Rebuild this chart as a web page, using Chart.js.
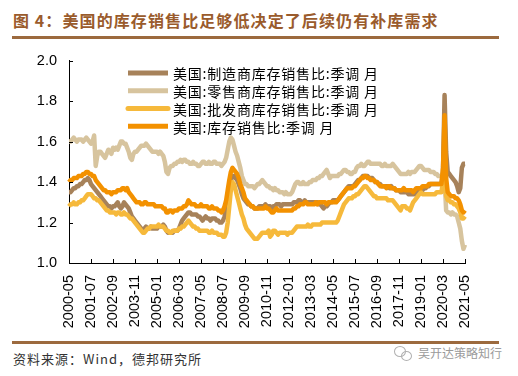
<!DOCTYPE html>
<html>
<head>
<meta charset="utf-8">
<script src="https://cdn.jsdelivr.net/npm/chart.js@4.4.1/dist/chart.umd.min.js"></script>
<style>
  body { margin: 0; background: #fff; width: 518px; height: 376px; position: relative; overflow: hidden; font-family: "Noto Sans CJK SC", sans-serif; }
  #title { position: absolute; left: 13px; top: 10px; line-height: 20px; font-size: 16px; font-weight: bold; color: #9A5B2C; letter-spacing: 1.1px; white-space: nowrap; }
  .rule { position: absolute; left: 12px; width: 487px; background: #9C6A3E; }
  #ruleTop { top: 36px; height: 3px; }
  #ruleBottom { top: 341px; height: 2.5px; }
  #source { position: absolute; left: 13px; top: 351px; line-height: 16px; font-size: 13px; color: #333; letter-spacing: 1px; white-space: nowrap; }
  #mark { position: absolute; left: 418px; top: 345px; line-height: 16px; font-size: 12px; color: #9a9a9a; white-space: nowrap; }
  .ring { position: absolute; border: 1px solid #b0b0b0; border-radius: 50%; }
  canvas { position: absolute; left: 0; top: 40px; }
</style>
</head>
<body>
<div id="title">图 4：美国的库存销售比足够低决定了后续仍有补库需求</div>
<div class="rule" id="ruleTop"></div>
<canvas id="myChart" width="518" height="300"></canvas>
<div class="rule" id="ruleBottom"></div>
<div id="source">资料来源：Wind，德邦研究所</div>
<div class="ring" style="left:394px;top:346px;width:10px;height:9px"></div>
<div class="ring" style="left:401px;top:351px;width:9px;height:8px"></div>
<div id="mark">吴开达策略知行</div>
<script>
// monthly, 2000-05 .. 2021-05
const startYear = 2000, startMonth = 5, monthCount = 253;
const months = [];
for (let i = 0; i < monthCount; i++) {
  const m = startMonth - 1 + i;
  const yy = startYear + Math.floor(m / 12);
  const mm = (m % 12) + 1;
  months.push(yy + '-' + (mm < 10 ? '0' + mm : mm));
}
const labelEvery = 14;

const seriesNames = [
  '美国:制造商库存销售比:季调 月',
  '美国:零售商库存销售比:季调 月',
  '美国:批发商库存销售比:季调 月',
  '美国:库存销售比:季调 月'
];
const seriesColors = ['#A7825A', '#D7C49E', '#F6B93B', '#F39100'];

const manufacturing = [
  1.35,1.35,1.36,1.37,1.37,1.38,1.38,1.39,
  1.39,1.40,1.41,1.41,1.42,1.41,1.39,1.38,1.37,1.36,1.35,1.34,
  1.33,1.32,1.31,1.30,1.29,1.28,1.28,1.27,1.28,1.28,1.29,1.30,
  1.28,1.27,1.28,1.30,1.29,1.28,1.27,1.25,1.23,1.22,1.21,1.20,
  1.19,1.18,1.17,1.16,1.17,1.18,1.17,1.17,1.18,1.17,1.17,1.17,
  1.17,1.18,1.18,1.18,1.19,1.18,1.16,1.15,1.15,1.15,1.15,1.16,
  1.16,1.16,1.17,1.19,1.21,1.22,1.23,1.24,1.25,1.25,1.24,1.24,
  1.24,1.24,1.23,1.23,1.22,1.21,1.22,1.23,1.22,1.22,1.21,1.22,
  1.22,1.22,1.21,1.21,1.20,1.20,1.21,1.23,1.27,1.32,1.37,1.41,
  1.43,1.43,1.42,1.41,1.39,1.37,1.34,1.32,1.31,1.30,1.29,1.29,
  1.28,1.28,1.27,1.27,1.27,1.28,1.28,1.28,1.28,1.29,1.28,1.28,
  1.28,1.27,1.28,1.28,1.29,1.29,1.29,1.28,1.29,1.29,1.29,1.29,
  1.29,1.29,1.29,1.30,1.30,1.30,1.31,1.31,1.30,1.30,1.31,1.30,
  1.30,1.30,1.30,1.30,1.30,1.30,1.30,1.29,1.29,1.28,1.27,1.28,
  1.28,1.29,1.30,1.30,1.31,1.31,1.31,1.31,1.32,1.33,1.34,1.35,
  1.36,1.37,1.38,1.38,1.38,1.38,1.39,1.40,1.41,1.41,1.42,1.43,
  1.43,1.43,1.43,1.42,1.42,1.42,1.41,1.40,1.40,1.39,1.39,1.38,
  1.38,1.38,1.38,1.38,1.37,1.38,1.37,1.37,1.36,1.36,1.36,1.35,
  1.35,1.35,1.35,1.35,1.34,1.34,1.34,1.34,1.34,1.35,1.35,1.35,
  1.36,1.36,1.37,1.37,1.38,1.38,1.39,1.39,1.39,1.39,1.39,1.39,
  1.39,1.39,1.45,1.83,1.55,1.45,1.44,1.43,1.42,1.41,1.40,1.38,
  1.35,1.37,1.47,1.49,1.49
];

const retail = [
  1.60,1.60,1.61,1.62,1.61,1.60,1.61,1.61,
  1.61,1.60,1.61,1.62,1.61,1.60,1.59,1.60,1.63,1.48,1.53,1.55,
  1.55,1.54,1.53,1.52,1.54,1.56,1.55,1.54,1.57,1.56,1.57,1.56,
  1.58,1.60,1.60,1.59,1.59,1.57,1.55,1.52,1.51,1.54,1.55,1.55,
  1.56,1.57,1.58,1.58,1.58,1.59,1.58,1.57,1.56,1.55,1.55,1.55,
  1.55,1.54,1.55,1.54,1.53,1.50,1.45,1.44,1.47,1.48,1.48,1.49,
  1.49,1.50,1.50,1.51,1.50,1.51,1.51,1.50,1.50,1.49,1.49,1.50,
  1.49,1.49,1.48,1.48,1.49,1.50,1.50,1.49,1.49,1.50,1.49,1.49,
  1.50,1.50,1.49,1.49,1.49,1.48,1.49,1.50,1.52,1.56,1.60,1.62,
  1.61,1.58,1.55,1.53,1.50,1.47,1.43,1.41,1.39,1.39,1.38,1.38,
  1.38,1.38,1.37,1.38,1.39,1.39,1.40,1.41,1.40,1.39,1.38,1.38,
  1.37,1.37,1.36,1.37,1.36,1.36,1.35,1.35,1.35,1.34,1.35,1.34,
  1.34,1.34,1.35,1.37,1.39,1.40,1.40,1.39,1.39,1.40,1.39,1.39,
  1.39,1.40,1.40,1.41,1.41,1.41,1.42,1.42,1.43,1.43,1.44,1.45,
  1.46,1.44,1.42,1.43,1.43,1.43,1.43,1.43,1.44,1.44,1.45,1.46,
  1.46,1.45,1.45,1.44,1.44,1.45,1.45,1.47,1.48,1.48,1.49,1.48,
  1.48,1.49,1.50,1.50,1.49,1.49,1.49,1.49,1.49,1.49,1.49,1.48,
  1.48,1.49,1.48,1.48,1.48,1.48,1.49,1.48,1.47,1.46,1.45,1.44,
  1.44,1.44,1.44,1.44,1.45,1.44,1.45,1.45,1.45,1.46,1.47,1.48,
  1.48,1.47,1.46,1.46,1.46,1.46,1.45,1.45,1.45,1.44,1.44,1.43,
  1.43,1.43,1.44,1.42,1.26,1.25,1.25,1.24,1.25,1.24,1.24,1.23,
  1.20,1.17,1.11,1.07,1.09
];

const wholesale = [
  1.28,1.29,1.29,1.30,1.29,1.29,1.30,1.30,
  1.31,1.31,1.32,1.33,1.34,1.34,1.34,1.33,1.32,1.32,1.31,1.31,
  1.30,1.29,1.28,1.27,1.26,1.26,1.25,1.25,1.25,1.25,1.24,1.25,
  1.25,1.24,1.24,1.25,1.24,1.24,1.23,1.22,1.22,1.21,1.20,1.19,
  1.18,1.17,1.16,1.15,1.15,1.16,1.17,1.17,1.18,1.18,1.18,1.18,
  1.18,1.19,1.18,1.18,1.18,1.17,1.16,1.16,1.15,1.15,1.16,1.16,
  1.16,1.16,1.17,1.17,1.18,1.18,1.19,1.20,1.21,1.20,1.19,1.18,
  1.18,1.17,1.17,1.16,1.16,1.16,1.16,1.16,1.16,1.15,1.15,1.16,
  1.15,1.15,1.15,1.14,1.14,1.14,1.13,1.13,1.15,1.20,1.28,1.36,
  1.40,1.39,1.36,1.33,1.30,1.27,1.24,1.22,1.19,1.17,1.16,1.15,
  1.14,1.13,1.12,1.12,1.12,1.13,1.14,1.15,1.15,1.15,1.15,1.16,
  1.13,1.14,1.16,1.16,1.15,1.14,1.15,1.15,1.15,1.15,1.15,1.14,
  1.15,1.15,1.15,1.16,1.17,1.18,1.18,1.18,1.18,1.18,1.18,1.18,
  1.19,1.18,1.18,1.19,1.19,1.19,1.19,1.19,1.19,1.20,1.20,1.20,
  1.20,1.20,1.20,1.20,1.20,1.20,1.20,1.21,1.23,1.25,1.27,1.29,
  1.30,1.31,1.32,1.32,1.32,1.33,1.33,1.34,1.34,1.35,1.36,1.37,
  1.38,1.38,1.37,1.36,1.35,1.34,1.33,1.33,1.32,1.32,1.32,1.32,
  1.32,1.32,1.32,1.31,1.31,1.31,1.31,1.30,1.29,1.28,1.27,1.26,
  1.28,1.28,1.28,1.27,1.27,1.26,1.28,1.30,1.31,1.32,1.33,1.34,
  1.35,1.34,1.34,1.34,1.34,1.34,1.34,1.34,1.34,1.34,1.35,1.35,
  1.35,1.35,1.40,1.45,1.33,1.31,1.31,1.30,1.30,1.29,1.29,1.28,
  1.27,1.25,1.22,1.22,1.23
];

const total = [
  1.40,1.41,1.41,1.42,1.42,1.42,1.43,1.43,
  1.43,1.44,1.44,1.45,1.45,1.44,1.44,1.43,1.43,1.41,1.40,1.39,
  1.38,1.37,1.36,1.36,1.35,1.35,1.35,1.34,1.35,1.35,1.35,1.36,
  1.36,1.36,1.37,1.37,1.36,1.37,1.35,1.34,1.33,1.32,1.31,1.30,
  1.30,1.30,1.29,1.29,1.30,1.30,1.29,1.29,1.29,1.29,1.29,1.28,
  1.28,1.28,1.28,1.28,1.27,1.27,1.25,1.25,1.26,1.26,1.25,1.26,
  1.26,1.26,1.27,1.27,1.27,1.28,1.28,1.29,1.31,1.30,1.29,1.29,
  1.29,1.28,1.28,1.28,1.29,1.28,1.28,1.28,1.28,1.27,1.27,1.28,
  1.27,1.27,1.27,1.26,1.26,1.25,1.26,1.28,1.31,1.36,1.41,1.45,
  1.47,1.46,1.45,1.44,1.42,1.39,1.37,1.35,1.32,1.31,1.30,1.29,
  1.28,1.28,1.27,1.27,1.27,1.27,1.27,1.27,1.27,1.28,1.27,1.27,
  1.26,1.25,1.25,1.26,1.27,1.26,1.26,1.26,1.26,1.26,1.26,1.26,
  1.26,1.26,1.26,1.27,1.27,1.28,1.28,1.29,1.29,1.29,1.30,1.30,
  1.29,1.29,1.29,1.29,1.29,1.30,1.29,1.30,1.30,1.30,1.30,1.30,
  1.29,1.30,1.30,1.30,1.30,1.30,1.30,1.31,1.32,1.33,1.34,1.35,
  1.36,1.37,1.37,1.37,1.37,1.38,1.38,1.39,1.40,1.41,1.42,1.42,
  1.43,1.43,1.42,1.42,1.41,1.41,1.41,1.40,1.40,1.39,1.38,1.38,
  1.38,1.38,1.37,1.38,1.38,1.37,1.37,1.37,1.36,1.36,1.36,1.36,
  1.36,1.37,1.36,1.36,1.36,1.36,1.36,1.35,1.36,1.37,1.37,1.37,
  1.37,1.38,1.38,1.38,1.38,1.39,1.39,1.39,1.39,1.39,1.39,1.39,
  1.39,1.39,1.47,1.73,1.42,1.35,1.34,1.33,1.33,1.33,1.32,1.32,
  1.31,1.29,1.26,1.25,1.26
];

const seriesData = [manufacturing, retail, wholesale, total];

// inward tick marks + legend drawn on the canvas
const axisExtras = {
  id: 'axisExtras',
  afterDraw(chart) {
    const { ctx, chartArea, scales: { x, y } } = chart;
    ctx.save();
    ctx.strokeStyle = '#000';
    ctx.lineWidth = 1;
    ctx.beginPath();
    x.ticks.forEach((t, i) => {
      const px = Math.round(x.getPixelForTick(i)) + 0.5;
      ctx.moveTo(px, chartArea.bottom);
      ctx.lineTo(px, chartArea.bottom - 4);
    });
    y.ticks.forEach((t, i) => {
      const py = Math.round(y.getPixelForTick(i)) + 0.5;
      ctx.moveTo(chartArea.left, py);
      ctx.lineTo(chartArea.left + 4, py);
    });
    ctx.stroke();

    // legend
    const lx = chartArea.left + 59;
    ctx.font = '14px "Noto Sans CJK SC"';
    ctx.textBaseline = 'middle';
    ctx.fillStyle = '#000';
    if ('letterSpacing' in ctx) ctx.letterSpacing = '0.8px';
    seriesNames.forEach((name, i) => {
      const ly = chartArea.top + 12.4 + i * 17.7;
      ctx.beginPath();
      ctx.strokeStyle = seriesColors[i];
      ctx.lineWidth = 5;
      ctx.lineCap = i === 2 ? 'round' : 'butt';
      ctx.moveTo(lx, ly);
      ctx.lineTo(lx + 40, ly);
      ctx.stroke();
      ctx.fillText(name, lx + 45, ly + 1);
    });
    ctx.restore();
  }
};

const tickFont = { family: '"Liberation Sans", Arial, sans-serif', size: 14.5 };

const myChart = new Chart(document.getElementById('myChart'), {
  type: 'line',
  plugins: [axisExtras],
  data: {
    labels: months,
    datasets: seriesNames.map((name, i) => ({
      label: name,
      data: seriesData[i],
      borderColor: seriesColors[i],
      backgroundColor: seriesColors[i],
      borderWidth: 4.5,
      pointRadius: 0,
      tension: 0,
      borderJoinStyle: 'round',
      order: 3 - i,
    })),
  },
  options: {
    responsive: false,
    animation: false,
    devicePixelRatio: 1,
    layout: { padding: { left: 0, right: 53, top: 8, bottom: 0 } },
    plugins: {
      legend: { display: false },
      tooltip: { enabled: false },
    },
    scales: {
      x: {
        grid: { display: false, drawTicks: false },
        border: { display: true, color: '#000', width: 1 },
        afterBuildTicks: (scale) => {
          scale.ticks = scale.ticks.filter(t => t.value % labelEvery === 0);
        },
        afterFit: (scale) => { scale.height = 77; },
        ticks: {
          autoSkip: false,
          minRotation: 90,
          maxRotation: 90,
          padding: 12,
          color: '#000',
          font: tickFont,
        },
      },
      y: {
        min: 1,
        max: 2,
        grid: { display: false, drawTicks: false },
        border: { display: true, color: '#000', width: 1 },
        afterFit: (scale) => { scale.width = 69; },
        ticks: {
          stepSize: 0.2,
          padding: 12,
          color: '#000',
          font: tickFont,
          callback: (v) => v.toFixed(1),
        },
      },
    },
  },
});
</script>
</body>
</html>
